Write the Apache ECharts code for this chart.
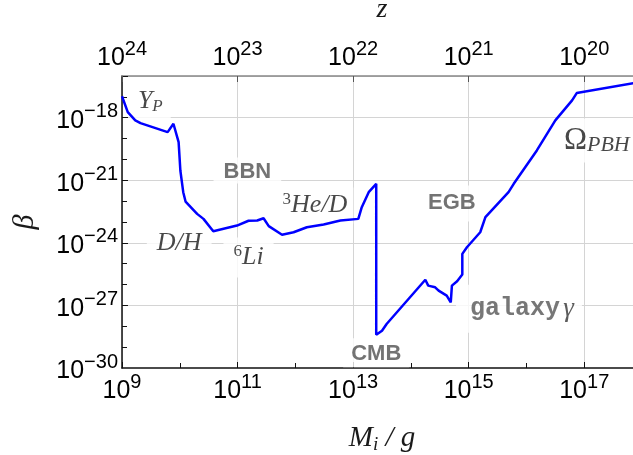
<!DOCTYPE html>
<html><head><meta charset="utf-8">
<script src="https://cdn.jsdelivr.net/npm/echarts@6/dist/echarts.min.js"></script>
<style>html,body{margin:0;padding:0;background:#fff}#c{width:633px;height:455px}</style>
</head><body><div id="c"></div>
<script>
// ---- data (log10 of values) ----
const massExp = [9.00, 9.10, 9.23, 9.32, 9.79, 9.89, 9.98, 10.01, 10.06, 10.10, 10.30, 10.41, 10.58, 10.99, 11.19, 11.34, 11.45, 11.54, 11.77, 11.97, 12.20, 12.49, 12.78, 13.09, 13.15, 13.27, 13.40, 13.40, 13.50, 13.58, 14.25, 14.30, 14.42, 14.48, 14.62, 14.69, 14.71, 14.80, 14.89, 14.89, 14.97, 15.20, 15.29, 15.69, 15.78, 16.18, 16.50, 16.79, 16.87, 17.85];
const betaExp = [-16.97, -17.73, -18.13, -18.26, -18.69, -18.29, -19.17, -20.53, -21.57, -22.02, -22.61, -22.85, -23.44, -23.17, -22.94, -22.93, -22.82, -23.20, -23.61, -23.49, -23.25, -23.12, -22.93, -22.85, -22.29, -21.57, -21.17, -28.41, -28.21, -27.89, -25.77, -26.05, -26.13, -26.29, -26.53, -26.85, -26.05, -25.84, -25.52, -24.53, -24.21, -23.49, -22.77, -21.57, -21.17, -19.57, -18.13, -17.17, -16.82, -16.34];

const xLabelExps = [9, 11, 13, 15, 17];
const yLabelExps = [-30, -27, -24, -21, -18];
const zLabelExps = [24, 23, 22, 21, 20];

const annoLabels = ['{it|Y}{sub|P}', '{bold|BBN}', '{sup|3}{it|He/D}', '{it|D/H}', '{sup|6}{it|Li}', '{bold|EGB}', '{om|Ω}{osub|PBH}', '{bold|CMB}', '{mono|galaxy} {gam|γ}'];
const annoMassExp = [9.49, 11.17, 12.34, 9.99, 11.19, 14.71, 16.51, 13.40, 15.87];
const annoBetaExp = [-17.21, -20.53, -22.21, -24.03, -24.70, -22.11, -19.09, -29.27, -27.16];

// axis extents
const massMin = 1e9, massMax = 1e18;
const zMax = 1e24, zMin = zMax * Math.sqrt(massMin / massMax);
const betaMin = 1e-30, betaMax = 1e-16;

// ---- layout ----
const gridTop = 76, gridBottom = 87, gridLeft = 122, gridRight = -9, chartH = 455;
// label-only y axis: extended three decades below so the 10^-30 label is an interior tick
const labelAxisMin = betaMin / 1e3;
const pxPerDecade = (chartH - gridTop - gridBottom) / Math.log10(betaMax / betaMin);
const labelGridBottom = gridBottom - 3 * pxPerDecade;

// ---- styles ----
const annoPadding = [[4,8,4,8],[2,10,0,10],[4,6,4,6],[6,10,6,10],[6,10,6,10],[6,10,6,10],[6,8,6,8],[4,8,1,8],[10,8,10,14]];
const annoAlign = ['center','center','center','center','center','center','left','center','center'];
const serif = 'Liberation Serif';
const ink = '#1a1a1a';
const annoRich = {
  it: {fontFamily: serif, fontStyle: 'italic', fontSize: 26, color: ink, lineHeight: 28},
  sub: {fontFamily: serif, fontStyle: 'italic', fontSize: 17, color: ink, lineHeight: 15, verticalAlign: 'bottom'},
  sup: {fontFamily: serif, fontSize: 17, color: ink, lineHeight: 15, verticalAlign: 'top'},
  bold: {fontFamily: 'Liberation Sans', fontWeight: 'bold', fontSize: 22, color: '#505050', lineHeight: 24},
  mono: {fontFamily: 'Liberation Mono', fontWeight: 'bold', fontSize: 25, color: '#555', lineHeight: 28},
  gam: {fontFamily: serif, fontStyle: 'italic', fontSize: 27, color: '#333', lineHeight: 28},
  om: {fontFamily: serif, fontSize: 31, color: ink, lineHeight: 32},
  osub: {fontFamily: serif, fontStyle: 'italic', fontSize: 22, color: ink, lineHeight: 18, verticalAlign: 'bottom'}
};
const tickRich = {
  b: {fontFamily: 'Liberation Sans', fontSize: 25, color: '#000', lineHeight: 32, verticalAlign: 'bottom'},
  s: {fontFamily: 'Liberation Sans', fontSize: 20, color: '#000', lineHeight: 17, verticalAlign: 'top'}
};
function expOf(v) { const l = Math.log10(v); const e = Math.round(l); return Math.abs(l - e) < 1e-6 ? e : null; }
function powLabel(list) {
  return function (v) {
    const e = expOf(v);
    if (e === null || list.indexOf(e) < 0) return '';
    return '{b|10}{s|' + (e < 0 ? '\u2212' + (-e) : e) + '}';
  };
}

const chart = echarts.init(document.getElementById('c'), null, {renderer: 'canvas'});
chart.setOption({
  animation: false,
  backgroundColor: '#fff',
  grid: [
    {left: gridLeft, right: gridRight, top: gridTop, bottom: gridBottom, containLabel: false, outerBoundsMode: 'none'},
    {left: gridLeft, right: gridRight, top: gridTop, bottom: labelGridBottom, containLabel: false, outerBoundsMode: 'none'}
  ],
  xAxis: [
    {type: 'log', logBase: 10, position: 'bottom', min: massMin, max: massMax, interval: 2,
     axisLine: {lineStyle: {color: '#111', width: 1.5}},
     axisTick: {inside: true, length: 6, lineStyle: {color: '#111', width: 1}},
     splitLine: {show: true, lineStyle: {color: '#d4d4d4', width: 1}},
     axisLabel: {formatter: powLabel(xLabelExps), margin: 4, rich: tickRich, showMinLabel: true, hideOverlap: false},
     name: '{m|M}{i|i}{m| / g}', nameLocation: 'middle', nameGap: 54, nameMoveOverlap: false,
     nameTextStyle: {rich: {
       m: {fontFamily: serif, fontStyle: 'italic', fontSize: 29, color: ink, lineHeight: 32},
       i: {fontFamily: serif, fontStyle: 'italic', fontSize: 19, color: ink, lineHeight: 18, verticalAlign: 'bottom'}
     }}},
    {type: 'log', logBase: 10, position: 'bottom', min: massMin, max: massMax, interval: 1,
     axisLine: {show: false}, axisLabel: {show: false}, splitLine: {show: false},
     axisTick: {inside: true, length: 5, lineStyle: {color: '#111', width: 1}}},
    {type: 'log', logBase: 10, position: 'top', inverse: true, min: zMin, max: zMax,
     axisLine: {lineStyle: {color: '#888', width: 1.5}},
     axisTick: {inside: true, length: 6, lineStyle: {color: '#555', width: 1}},
     splitLine: {show: false},
     axisLabel: {formatter: powLabel(zLabelExps), margin: 5, rich: tickRich, showMaxLabel: true, hideOverlap: false},
     name: 'z', nameLocation: 'middle', nameGap: 52, nameMoveOverlap: false,
     nameTextStyle: {fontFamily: serif, fontStyle: 'italic', fontSize: 28, color: ink}},
    {gridIndex: 1, type: 'log', logBase: 10, position: 'bottom', min: massMin, max: massMax, show: false}
  ],
  yAxis: [
    {type: 'log', logBase: 10, position: 'left', min: betaMin, max: betaMax, interval: 3,
     axisLine: {lineStyle: {color: '#111', width: 1.5}},
     axisTick: {inside: true, length: 6, lineStyle: {color: '#111', width: 1}},
     splitLine: {show: true, lineStyle: {color: '#d4d4d4', width: 1}},
     axisLabel: {show: false},
     name: 'β', nameLocation: 'middle', nameGap: 82, nameRotate: 90, nameMoveOverlap: false,
     nameTextStyle: {fontFamily: serif, fontStyle: 'italic', fontSize: 30, color: ink}},
    {type: 'log', logBase: 10, position: 'left', min: betaMin, max: betaMax, interval: 1,
     axisLine: {show: false}, axisLabel: {show: false}, splitLine: {show: false},
     axisTick: {inside: true, length: 5, lineStyle: {color: '#111', width: 1}}},
    {gridIndex: 1, type: 'log', logBase: 10, position: 'left', min: labelAxisMin, max: betaMax, interval: 3,
     axisLine: {show: false}, axisTick: {show: false}, splitLine: {show: false},
     axisLabel: {formatter: powLabel(yLabelExps), margin: 4, rich: tickRich, showMinLabel: true, showMaxLabel: true, hideOverlap: false}}
  ],
  series: [
    {type: 'scatter', xAxisIndex: 0, yAxisIndex: 0, z: 1, silent: true,
     symbol: 'circle', symbolSize: 1, itemStyle: {color: 'rgba(0,0,0,0)'},
     data: annoLabels.map((t, i) => ({
       value: [Math.pow(10, annoMassExp[i]), Math.pow(10, annoBetaExp[i])],
       label: {show: true, position: 'inside', formatter: t, rich: annoRich,
               backgroundColor: '#fff', padding: annoPadding[i], align: annoAlign[i], verticalAlign: 'middle'}
     }))},
    {type: 'line', xAxisIndex: 0, yAxisIndex: 0, z: 3, symbol: 'none', showSymbol: false,
     lineStyle: {color: '#0000ff', width: 2.5},
     data: massExp.map((m, i) => [Math.pow(10, m), Math.pow(10, betaExp[i])])}
  ]
});
</script></body></html>
